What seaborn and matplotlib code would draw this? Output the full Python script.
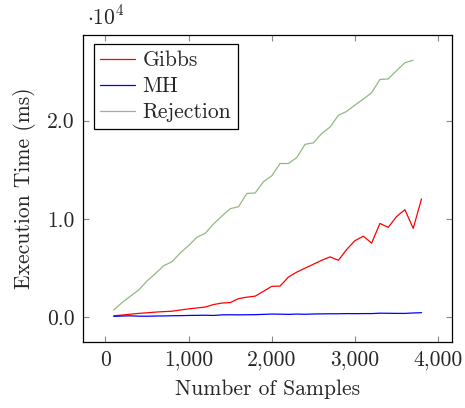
import matplotlib
matplotlib.use("Agg")
import matplotlib.pyplot as plt
import seaborn as sns
import pandas as pd
from matplotlib.ticker import FuncFormatter, FixedLocator

samples = [100 * i for i in range(1, 39)]

gibbs = [150, 230, 320, 400, 460, 530, 580, 620, 740, 860, 950, 1050, 1300, 1450,
         1500, 1900, 2050, 2150, 2650, 3150, 3180, 4100, 4600, 5000, 5400, 5800,
         6150, 5800, 6900, 7800, 8250, 7550, 9550, 9150, 10250, 10950, 9050, 12050]
mh = [100, 130, 150, 120, 110, 130, 140, 160, 170, 190, 200, 210, 190, 250, 260,
      250, 260, 270, 300, 330, 320, 300, 330, 310, 340, 350, 360, 360, 380, 370,
      380, 380, 420, 410, 400, 400, 440, 470]
rejection = [750, 1500, 2150, 2780, 3700, 4450, 5250, 5650, 6550, 7300, 8150, 8550,
             9500, 10300, 11050, 11250, 12600, 12650, 13800, 14400, 15650, 15650,
             16250, 17600, 17750, 18700, 19350, 20550, 20950, 21600, 22200, 22850,
             24200, 24250, 25100, 25900, 26150]

series_names = ["Gibbs", "MH", "Rejection"]
series_colors = ["#ff0000", "#0000ff", "#93b981"]
x_ticks = [0, 1000, 2000, 3000, 4000]
y_ticks = [0, 10000, 20000]

df = pd.concat([
    pd.DataFrame({"n": samples[:len(gibbs)], "t": gibbs, "method": "Gibbs"}),
    pd.DataFrame({"n": samples[:len(mh)], "t": mh, "method": "MH"}),
    pd.DataFrame({"n": samples[:len(rejection)], "t": rejection, "method": "Rejection"}),
], ignore_index=True)

sns.set_theme(style="white")
plt.rcParams["font.family"] = ["cmr10", "DejaVu Serif"]
plt.rcParams["mathtext.fontset"] = "cm"
plt.rcParams["axes.unicode_minus"] = False
plt.rcParams["axes.formatter.use_mathtext"] = True

fig = plt.figure(figsize=(4.65, 4.08), dpi=100)
ax = fig.add_axes([0.1785, 0.1618, 0.7942, 0.7524])

sns.lineplot(data=df, x="n", y="t", hue="method", hue_order=series_names,
             palette=dict(zip(series_names, series_colors)), linewidth=0.9,
             ax=ax, legend=True, estimator=None, sort=False)

ax.set_xlim(-270, 4170)
ax.set_ylim(-2510, 28720)

fs = 15.5
ax.xaxis.set_major_locator(FixedLocator(x_ticks))
ax.yaxis.set_major_locator(FixedLocator(y_ticks))
ax.xaxis.set_major_formatter(FuncFormatter(lambda v, p: f"{int(v):,}"))
ax.yaxis.set_major_formatter(FuncFormatter(lambda v, p: f"{v/1e4:.1f}"))
ax.tick_params(axis="both", which="major", direction="in", length=4, width=0.8,
               color="#888888", labelsize=fs, top=True, right=True,
               bottom=True, left=True, pad=6)
for s in ax.spines.values():
    s.set_color("black")
    s.set_linewidth(0.9)

ax.set_xlabel("Number of Samples", fontsize=fs, labelpad=7)
ax.set_ylabel("Execution Time (ms)", fontsize=fs, labelpad=8)
ax.text(0.012, 1.02, r"$\cdot 10^{4}$", transform=ax.transAxes, fontsize=fs,
        ha="left", va="bottom")

leg = ax.legend(loc="upper left", bbox_to_anchor=(0.0298, 0.9697), borderaxespad=0,
                fontsize=fs, frameon=True, fancybox=False, framealpha=1,
                edgecolor="black", handlelength=1.6, handletextpad=0.35,
                borderpad=0.3, labelspacing=0.3, title=None)
leg.get_frame().set_linewidth(0.9)
for line in leg.get_lines():
    line.set_linewidth(0.9)

fig.savefig("out.png", dpi=100)
